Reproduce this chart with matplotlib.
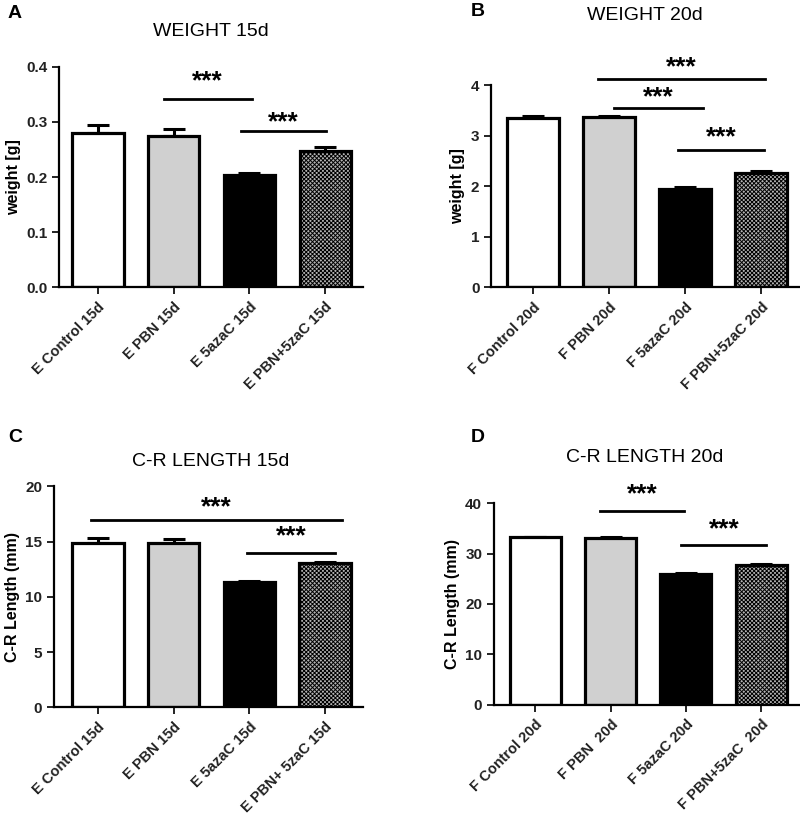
import numpy as np
import matplotlib
matplotlib.use("Agg")
import matplotlib.pyplot as plt

plt.rcParams['font.family'] = ['Liberation Sans', 'DejaVu Sans']
plt.rcParams['hatch.linewidth'] = 0.7

# panel data
labels_a = ["E Control 15d", "E PBN 15d", "E 5azaC 15d", "E PBN+5zaC 15d"]
weight_15 = [0.280, 0.275, 0.203, 0.248]
weight_15_err = [0.015, 0.013, 0.004, 0.007]

labels_b = ["F Control 20d", "F PBN 20d", "F 5azaC 20d", "F PBN+5zaC 20d"]
weight_20 = [3.35, 3.37, 1.95, 2.26]
weight_20_err = [0.04, 0.03, 0.03, 0.04]

labels_c = ["E Control 15d", "E PBN 15d", "E 5azaC 15d", "E PBN+ 5zaC 15d"]
length_15 = [14.85, 14.85, 11.33, 13.05]
length_15_err = [0.5, 0.35, 0.15, 0.1]

labels_d = ["F Control 20d", "F PBN  20d", "F 5azaC 20d", "F PBN+5zaC  20d"]
length_20 = [33.3, 33.1, 25.9, 27.8]
length_20_err = [0.0, 0.25, 0.2, 0.2]

# significance brackets: (x0, x1, y_line, y_stars)
sig_a = [(0.87, 2.03, 0.342, 0.373), (1.89, 3.01, 0.284, 0.300)]
sig_b = [(0.86, 3.05, 4.12, 4.35), (1.06, 2.23, 3.56, 3.76), (1.91, 3.04, 2.72, 2.98)]
sig_c = [(-0.09, 3.22, 17.0, 18.1), (1.97, 3.13, 14.0, 15.5)]
sig_d = [(0.86, 1.98, 38.5, 41.8), (1.94, 3.07, 31.6, 34.7)]

fills = ['white', '#d0d0d0', 'black', '#b4b4b4']
hatches = [None, None, None, 'xxxxxxxx']


def panel(ax, labels, vals, errs, sig, ylim, yticks, ylabel, xleft):
    x = np.arange(len(vals))
    for i in range(len(vals)):
        ax.bar(x[i], vals[i], width=0.68, color=fills[i], edgecolor='black',
               linewidth=2.3, hatch=hatches[i], zorder=2)
        ax.errorbar(x[i], vals[i], yerr=[[0], [errs[i]]], fmt='none',
                    ecolor='black', elinewidth=2.2, capsize=8, capthick=2.2, zorder=1)
    for x0, x1, yl, ys in sig:
        ax.plot([x0, x1], [yl, yl], color='black', lw=2.0, clip_on=False)
        ax.text((x0 + x1) / 2, ys, "***", ha='center', va='center',
                fontsize=19, fontweight='bold', clip_on=False)
    ax.set_xlim(xleft, 3.5)
    ax.set_ylim(*ylim)
    ax.set_yticks(yticks)
    ax.set_xticks(x)
    ax.set_xticklabels(labels, rotation=45, ha='right', rotation_mode='anchor',
                       fontsize=10.5, fontweight='bold')
    for t in ax.get_yticklabels():
        t.set_fontweight('bold')
        t.set_fontsize(11)
    ax.set_ylabel(ylabel, fontsize=11.5, fontweight='bold')
    ax.spines['top'].set_visible(False)
    ax.spines['right'].set_visible(False)
    ax.spines['left'].set_linewidth(1.6)
    ax.spines['bottom'].set_linewidth(1.6)
    ax.tick_params(direction='out', length=5, width=1.4, colors='#222222')
    ax.tick_params(axis='x', pad=4)


fig = plt.figure(figsize=(8, 8.14), dpi=100)

ax_a = fig.add_axes([0.074, 0.647, 0.380, 0.271])
panel(ax_a, labels_a, weight_15, weight_15_err, sig_a, (0, 0.4),
      [0.0, 0.1, 0.2, 0.3, 0.4], "weight [g]", -0.51)
ax_a.set_yticklabels(["0.0", "0.1", "0.2", "0.3", "0.4"])

ax_b = fig.add_axes([0.614, 0.647, 0.385, 0.248])
panel(ax_b, labels_b, weight_20, weight_20_err, sig_b, (0, 4),
      [0, 1, 2, 3, 4], "weight [g]", -0.55)

ax_c = fig.add_axes([0.0675, 0.131, 0.386, 0.2715])
panel(ax_c, labels_c, length_15, length_15_err, sig_c, (0, 20),
      [0, 5, 10, 15, 20], "C-R Length (mm)", -0.58)

ax_d = fig.add_axes([0.6175, 0.134, 0.381, 0.248])
panel(ax_d, labels_d, length_20, length_20_err, sig_d, (0, 40),
      [0, 10, 20, 30, 40], "C-R Length (mm)", -0.55)

# titles and panel letters
fig.text(211 / 800, 1 - 32 / 814, "WEIGHT 15d", ha='center', va='center', fontsize=14)
fig.text(645 / 800, 1 - 15 / 814, "WEIGHT 20d", ha='center', va='center', fontsize=14)
fig.text(211 / 800, 1 - 462 / 814, "C-R LENGTH 15d", ha='center', va='center', fontsize=14)
fig.text(645 / 800, 1 - 457 / 814, "C-R LENGTH 20d", ha='center', va='center', fontsize=14)

for letter, px, py in [("A", 15, 13), ("B", 478, 12), ("C", 15, 437), ("D", 478, 437)]:
    fig.text(px / 800, 1 - py / 814, letter, ha='center', va='center',
             fontsize=14, fontweight='bold')

fig.savefig("out.png", dpi=100)
